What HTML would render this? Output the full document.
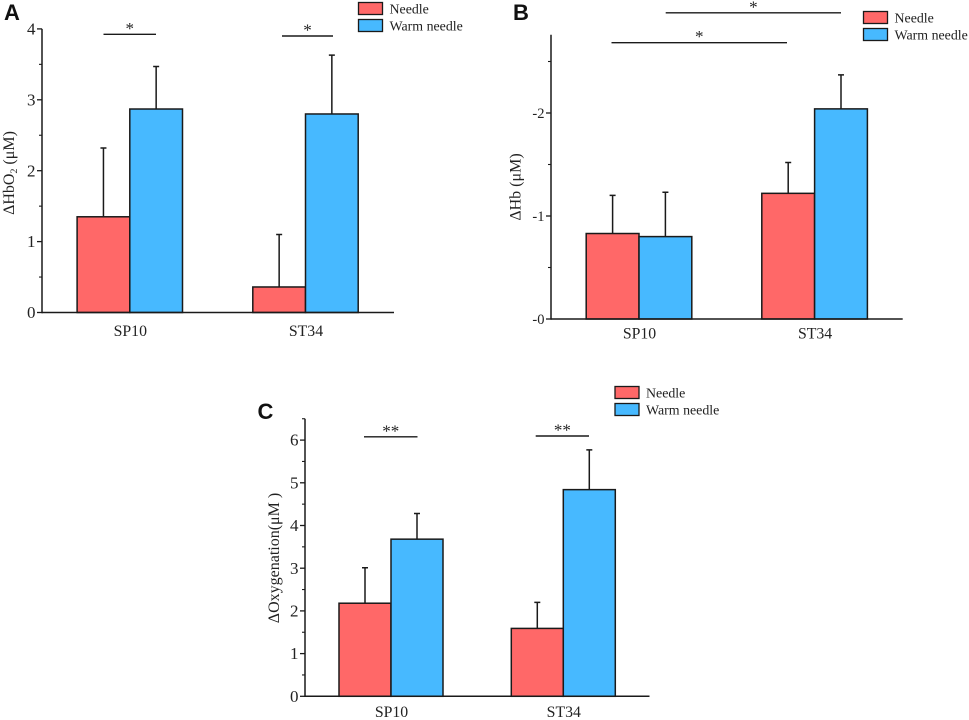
<!DOCTYPE html>
<html>
<head>
<meta charset="utf-8">
<style>
html,body{margin:0;padding:0;background:#fff;}
svg{display:block;}
text{font-family:"Liberation Serif","DejaVu Serif",serif;fill:#222;}
.panel-letter{font-family:"Liberation Sans",sans-serif;font-weight:bold;font-size:22px;fill:#111;}
</style>
</head>
<body>
<svg id="figure" width="969" height="720" viewBox="0 0 969 720" xmlns="http://www.w3.org/2000/svg"></svg>
<script>
const categories = ['SP10', 'ST34'];
const seriesNames = ['Needle', 'Warm needle'];

const hbo2Needle = [1.35, 0.36];
const hbo2Warm = [2.87, 2.80];
const hbo2NeedleErr = [2.32, 1.10];
const hbo2WarmErr = [3.47, 3.63];
const hbo2Ticks = [0, 1, 2, 3, 4];
const hbo2TickLabels = ['0', '1', '2', '3', '4'];
const hbo2MinorTicks = [0.5, 1.5, 2.5, 3.5];

const hbNeedle = [0.83, 1.22];
const hbWarm = [0.80, 2.04];
const hbNeedleErr = [1.20, 1.52];
const hbWarmErr = [1.23, 2.37];
const hbTicks = [0, 1, 2];
const hbTickLabels = ['-0', '-1', '-2'];
const hbMinorTicks = [0.5, 1.5, 2.5];

const oxyNeedle = [2.18, 1.59];
const oxyWarm = [3.68, 4.84];
const oxyNeedleErr = [3.01, 2.20];
const oxyWarmErr = [4.28, 5.77];
const oxyTicks = [0, 1, 2, 3, 4, 5, 6];
const oxyTickLabels = ['0', '1', '2', '3', '4', '5', '6'];
const oxyMinorTicks = [0.5, 1.5, 2.5, 3.5, 4.5, 5.5, 6.5];

const NS = 'http://www.w3.org/2000/svg';
const fig = document.getElementById('figure');
const COLORS = ['#ff6868', '#47b9ff'];

function make(parent, tag, attrs, txt) {
  const el = document.createElementNS(NS, tag);
  for (const k in attrs) el.setAttribute(k, attrs[k]);
  if (txt !== undefined) el.textContent = txt;
  parent.appendChild(el);
  return el;
}

function drawPanel(p) {
  const g = make(fig, 'g', {});
  
  

  const y = v => p.y0 - v * p.unit;
  const x = i => p.xFirst + i * p.xStep;
  const bw = p.barW;

  const letter = make(g, 'text', {x: p.letterX, y: p.letterY, class: 'panel-letter'}, p.letter);
  
  

  // bars and error bars
  p.series.forEach((vals, s) => {
    vals.forEach((v, i) => {
      const left = x(i) - bw + s * bw;
      const cx = left + bw / 2;
      const err = make(g, 'path', {
        d: 'M' + cx + ' ' + y(v) + 'V' + y(p.errs[s][i]) + 'M' + (cx - 3) + ' ' + y(p.errs[s][i]) + 'H' + (cx + 3),
        fill: 'none', stroke: '#1a1a1a', 'stroke-width': 1.5
      });
      
      
      const bar = make(g, 'rect', {
        x: left, y: y(v), width: bw, height: v * p.unit,
        fill: COLORS[s], stroke: '#1a1a1a', 'stroke-width': 1.5
      });
      
      
    });
  });

  // axes
  const yAxis = make(g, 'line', {x1: p.axisX, x2: p.axisX, y1: p.y0 + 0.75, y2: y(p.yTop), stroke: '#1a1a1a', 'stroke-width': 1.5});
  
  
  const xAxis = make(g, 'line', {x1: p.axisX, x2: p.axisEnd, y1: p.y0, y2: p.y0, stroke: '#1a1a1a', 'stroke-width': 1.5});
  
  

  p.ticks.forEach((t, i) => {
    const tk = make(g, 'line', {x1: p.axisX - 5, x2: p.axisX, y1: y(t), y2: y(t), stroke: '#1a1a1a', 'stroke-width': 1.3});
    
    
    const lb = make(g, 'text', {x: p.axisX - 6.5, y: y(t) + p.tickSize * 0.33, 'text-anchor': 'end', 'font-size': p.tickSize}, p.tickLabels[i]);
    
    
  });
  p.minor.forEach(t => {
    const tk = make(g, 'line', {x1: p.axisX - 3, x2: p.axisX, y1: y(t), y2: y(t), stroke: '#1a1a1a', 'stroke-width': 1.1});
    
    
  });

  categories.forEach((c, i) => {
    const lb = make(g, 'text', {x: x(i) + 0.5, y: p.catY, 'text-anchor': 'middle', 'font-size': 15.8}, c);
    
    
  });

  // y title
  const title = make(g, 'text', {
    x: 0, y: 0, 'text-anchor': 'middle', 'font-size': p.titleSize,
    transform: 'translate(' + p.titleX + ' ' + p.titleY + ') rotate(-90)'
  });
  
  
  p.title.forEach(part => {
    make(title, 'tspan', part.sub ? {'font-size': p.titleSize * 0.62, dy: 3} : {dy: part.after ? -3 : 0}, part.t);
  });

  // significance
  p.sig.forEach((m, i) => {
    const ln = make(g, 'line', {x1: m.a, x2: m.b, y1: m.y, y2: m.y, stroke: '#1a1a1a', 'stroke-width': 1.4});
    
    
    const st = make(g, 'text', {x: (m.a + m.b) / 2, y: m.y - 0.5, 'text-anchor': 'middle', 'font-size': 17}, m.s);
    
    
  });

  // legend
  const lg = make(g, 'g', {});
  
  
  seriesNames.forEach((n, s) => {
    const sw = make(lg, 'rect', {x: p.legX, y: p.legY + s * 17, width: 24, height: 12, fill: COLORS[s], stroke: '#1a1a1a', 'stroke-width': 1.3});
    
    
    const tx = make(lg, 'text', {x: p.legX + 31, y: p.legY + s * 17 + 11, 'font-size': 13.9}, n);
    
    
  });
}

drawPanel({
  key: 'hbo2', letter: 'A', letterX: 4, letterY: 20,
  series: [hbo2Needle, hbo2Warm], errs: [hbo2NeedleErr, hbo2WarmErr],
  ticks: hbo2Ticks, tickLabels: hbo2TickLabels, minor: hbo2MinorTicks,
  y0: 312.5, unit: 70.9, yTop: 4, axisX: 42, axisEnd: 394,
  xFirst: 129.8, xStep: 175.7, barW: 52.7, catY: 336, tickSize: 17,
  title: [{t: 'ΔHbO'}, {t: '2', sub: true}, {t: ' (μM)', after: true}],
  titleSize: 16, titleX: 14, titleY: 173,
  sig: [{a: 103.5, b: 156, y: 34.3, s: '*'}, {a: 282, b: 333, y: 36, s: '*'}],
  legX: 358.5, legY: 2.5
});

drawPanel({
  key: 'hb', letter: 'B', letterX: 513, letterY: 20,
  series: [hbNeedle, hbWarm], errs: [hbNeedleErr, hbWarmErr],
  ticks: hbTicks, tickLabels: hbTickLabels, minor: hbMinorTicks,
  y0: 319, unit: 103, yTop: 2.76, axisX: 551, axisEnd: 902.7,
  xFirst: 639, xStep: 175.6, barW: 52.8, catY: 338.5, tickSize: 14.5,
  title: [{t: 'ΔHb (μM)'}],
  titleSize: 16, titleX: 520.5, titleY: 187,
  sig: [{a: 665.7, b: 841, y: 12.8, s: '*'}, {a: 611.5, b: 787, y: 42.7, s: '*'}],
  legX: 863.5, legY: 11.5
});

drawPanel({
  key: 'oxygenation', letter: 'C', letterX: 257.5, letterY: 419,
  series: [oxyNeedle, oxyWarm], errs: [oxyNeedleErr, oxyWarmErr],
  ticks: oxyTicks, tickLabels: oxyTickLabels, minor: oxyMinorTicks,
  y0: 696.3, unit: 42.7, yTop: 6.5, axisX: 305, axisEnd: 649.5,
  xFirst: 391, xStep: 172.3, barW: 52, catY: 717, tickSize: 17,
  title: [{t: 'ΔOxygenation(μM )'}],
  titleSize: 16, titleX: 279, titleY: 558,
  sig: [{a: 364, b: 417.5, y: 436.8, s: '**'}, {a: 535.7, b: 589, y: 436, s: '**'}],
  legX: 615, legY: 386.5
});
</script>
</body>
</html>
